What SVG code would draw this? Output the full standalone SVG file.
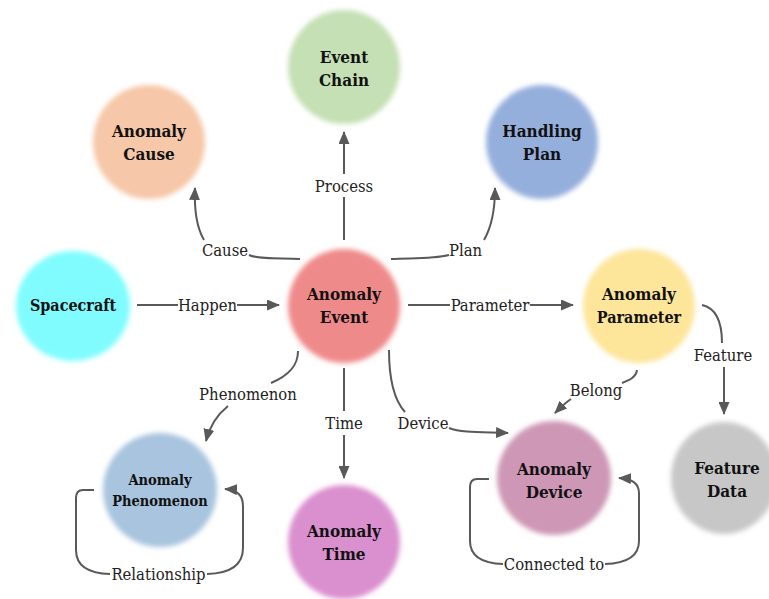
<svg xmlns="http://www.w3.org/2000/svg" width="769" height="599" viewBox="0 0 769 599">
  <defs>
    <filter id="soft" x="-20%" y="-20%" width="140%" height="140%">
      <feGaussianBlur stdDeviation="2.6"/>
    </filter>
    <marker id="arrow" markerUnits="userSpaceOnUse" markerWidth="13" markerHeight="11" refX="12" refY="5.5" orient="auto">
      <path d="M0,0 L13,5.5 L0,11 Z" fill="#595959"/>
    </marker>
    <style>
      text { font-family: 'DejaVu Serif', serif; font-stretch: condensed; text-anchor: middle; }
      .node ellipse { filter: url(#soft); }
      .node text { font-weight: bold; font-size: 17px; fill: #111; }
      .node text.small { font-size: 14.5px; }
      .node text.mid { font-size: 16px; }
      #connectors path { fill: none; stroke: #595959; stroke-width: 2; }
      #connectors path.arr { marker-end: url(#arrow); }
      #connectors text { font-size: 16.5px; fill: #222; }
    </style>
  </defs>
  <rect width="769" height="599" fill="#ffffff"/>

  <!-- nodes -->
  <g id="event-chain" class="node">
    <ellipse cx="344" cy="67" rx="56" ry="57" fill="#c5e0b4"/>
    <text x="344" y="63">Event</text>
    <text x="344" y="86">Chain</text>
  </g>
  <g id="anomaly-cause" class="node">
    <ellipse cx="149" cy="142" rx="56" ry="57" fill="#f6c7a8"/>
    <text x="149" y="137">Anomaly</text>
    <text x="149" y="160">Cause</text>
  </g>
  <g id="handling-plan" class="node">
    <ellipse cx="542" cy="142" rx="56" ry="57" fill="#95afdc"/>
    <text x="542" y="137">Handling</text>
    <text x="542" y="160">Plan</text>
  </g>
  <g id="spacecraft" class="node">
    <ellipse cx="73" cy="306" rx="57" ry="55" fill="#80fcff"/>
    <text class="mid" x="73" y="311">Spacecraft</text>
  </g>
  <g id="anomaly-event" class="node">
    <ellipse cx="344" cy="306" rx="56" ry="57" fill="#ef8a8a"/>
    <text x="344" y="300">Anomaly</text>
    <text x="344" y="323">Event</text>
  </g>
  <g id="anomaly-parameter" class="node">
    <ellipse cx="639" cy="306" rx="56" ry="57" fill="#fde59a"/>
    <text x="639" y="300">Anomaly</text>
    <text class="mid" x="639" y="323">Parameter</text>
  </g>
  <g id="anomaly-phenomenon" class="node">
    <ellipse cx="160" cy="490" rx="57" ry="57" fill="#a8c4de"/>
    <text class="small" x="160" y="485">Anomaly</text>
    <text class="small" x="160" y="506">Phenomenon</text>
  </g>
  <g id="anomaly-time" class="node">
    <ellipse cx="344" cy="542" rx="56" ry="57" fill="#da8fcf"/>
    <text x="344" y="537">Anomaly</text>
    <text x="344" y="560">Time</text>
  </g>
  <g id="anomaly-device" class="node">
    <ellipse cx="554" cy="478" rx="57" ry="57" fill="#cd97b5"/>
    <text x="554" y="475">Anomaly</text>
    <text x="554" y="498">Device</text>
  </g>
  <g id="feature-data" class="node">
    <ellipse cx="724" cy="478" rx="53" ry="56" fill="#c7c7c7"/>
    <text x="727" y="474">Feature</text>
    <text x="727" y="497">Data</text>
  </g>

  <!-- connectors -->
  <g id="connectors">
    <path d="M137,305 H178"/>
    <path class="arr" d="M237,305 H279"/>
    <text x="207.5" y="311">Happen</text>

    <path d="M408,305 H450"/>
    <path class="arr" d="M530,305 H573"/>
    <text x="490" y="311">Parameter</text>

    <path d="M344,240 V197"/>
    <path class="arr" d="M344,174 V132"/>
    <text x="344" y="192">Process</text>

    <path d="M300,259 C 275,258 258,259 249,255"/>
    <path class="arr" d="M204,240 C 197,228 194,212 195,188"/>
    <text x="225" y="256">Cause</text>

    <path d="M391,259 C 416,258 433,259 449,255"/>
    <path class="arr" d="M484,240 C 491,228 495,212 495,188"/>
    <text x="465.5" y="256">Plan</text>

    <path d="M298,351 C 298,365 290,375 271,383"/>
    <path class="arr" d="M228,406 C 218,414 210,425 206,441"/>
    <text x="248" y="400">Phenomenon</text>

    <path d="M344,368 V411"/>
    <path class="arr" d="M344,435 V478"/>
    <text x="344" y="429">Time</text>

    <path d="M389,350 C 389,380 394,400 405,412"/>
    <path class="arr" d="M449,428 C 462,433 482,432 508,433"/>
    <text x="423" y="429">Device</text>

    <path d="M637,370 C 636,377 630,380 622,383"/>
    <path class="arr" d="M571,399 C 565,403 560,408 555,413"/>
    <text x="596" y="396">Belong</text>

    <path d="M702,305 C 716,308 722,322 722,343"/>
    <path class="arr" d="M724,367 V414"/>
    <text x="723" y="361">Feature</text>

    <path d="M94,490 L83,490 Q76,490 76,498 L76,550 Q76,573 110,574"/>
    <path class="arr" d="M207,574 Q243,573 243,548 L243,506 Q243,490 225,489"/>
    <text x="158.5" y="580">Relationship</text>

    <path d="M489,479 L477,479 Q470,479 470,487 L470,541 Q470,563 503,564"/>
    <path class="arr" d="M605,564 Q639,563 639,541 L639,493 Q639,479 619,478"/>
    <text x="554" y="570">Connected to</text>
  </g>
</svg>
